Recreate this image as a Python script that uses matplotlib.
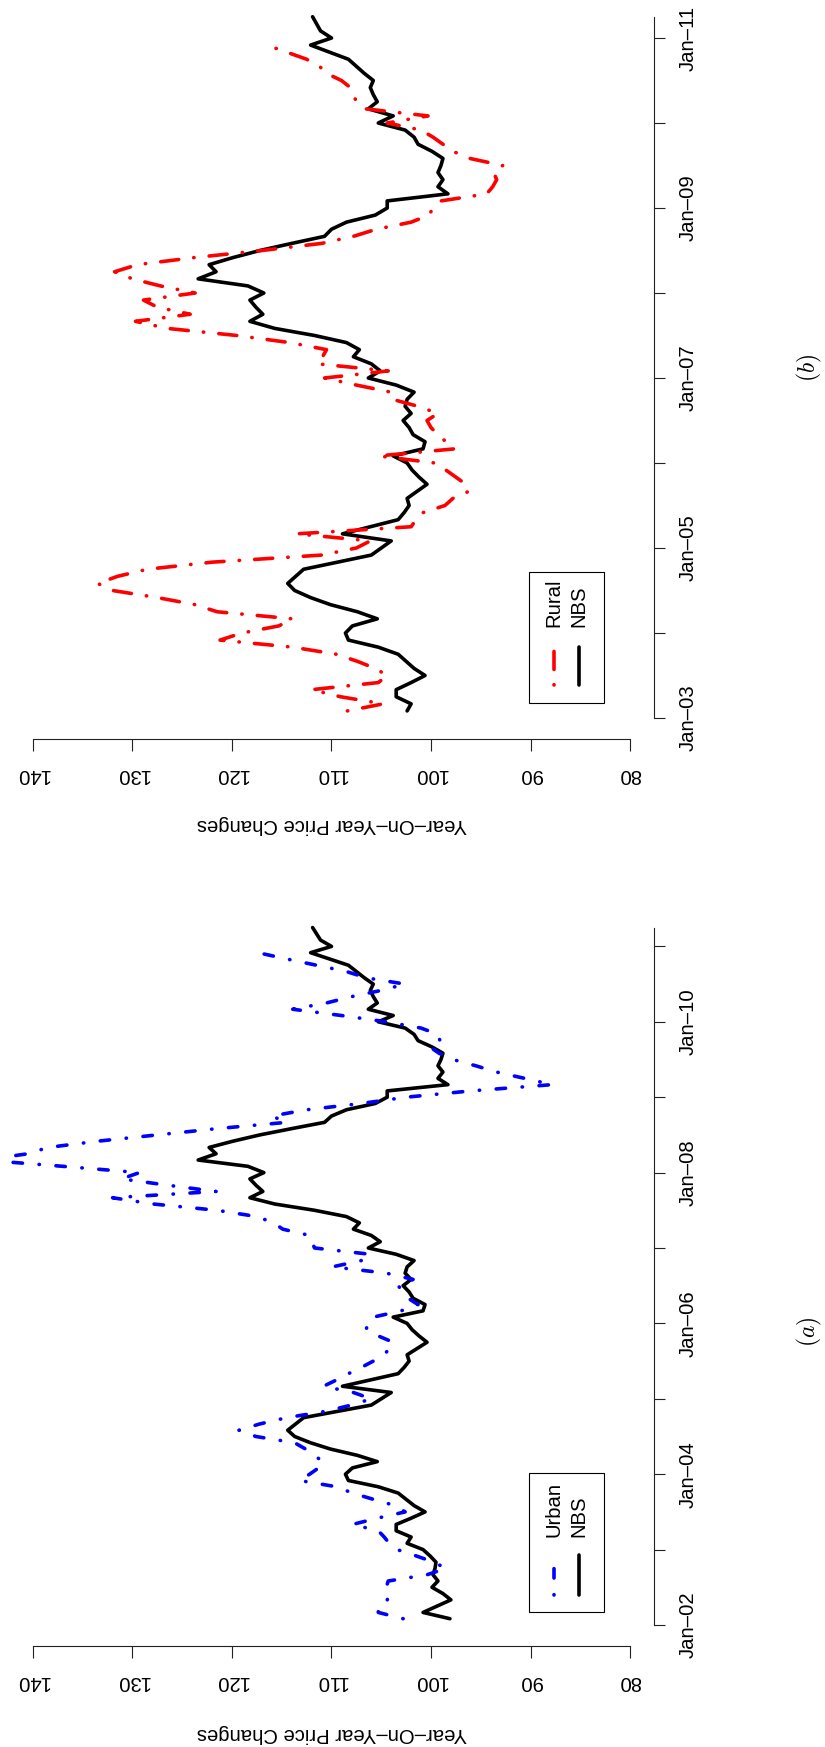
import matplotlib
matplotlib.use("Agg")
import matplotlib.pyplot as plt
from matplotlib.patches import Rectangle
from matplotlib.lines import Line2D
import numpy as np

plt.rcParams['font.family'] = ['Liberation Sans', 'DejaVu Sans']
plt.rcParams['mathtext.fontset'] = 'cm'

# ---------------- data (monthly, year-on-year price index) ----------------
nbs_start = (2002, 2)      # first month: Feb 2002
nbs_values = [
    98.1, 100.8, 99.4, 98.0, 98.8, 99.9, 99.3, 99.8, 99.6, 99.5, 100.1,
    100.8, 102.4, 102.0, 103.5, 103.5, 102.0, 100.6, 101.7, 102.5, 103.3, 105.3, 108.3,
    108.6, 107.9, 105.4, 107.4, 110.1, 112.1, 113.7, 114.4, 113.6, 112.8, 109.4, 106.0,
    105.0, 104.0, 108.9, 106.1, 103.3, 102.7, 102.2, 102.4, 101.4, 100.4, 101.2, 101.9,
    102.4, 103.8, 100.8, 100.6, 101.8, 102.2, 102.8, 102.0, 102.6, 102.4, 101.7, 103.5,
    106.3, 105.1, 106.0, 107.8, 107.2, 108.5, 111.7, 115.7, 118.2, 116.9, 117.6, 118.2,
    116.8, 118.4, 123.4, 121.6, 122.3, 119.9, 117.2, 114.0, 110.7, 110.0, 108.5, 105.6,
    104.4, 104.4, 98.3, 99.3, 98.8, 99.3, 99.0, 98.8, 99.9, 101.3, 101.7, 102.6,
    105.3, 103.8, 106.3, 105.4, 105.8, 106.1, 105.8, 106.7, 107.5, 108.3, 110.2, 112.1,
    110.0, 111.1, 111.5, 111.9,
]
urban_start = (2002, 2)
urban_values = [
    102.8, 105.3, 105.3, 104.4, 104.2, 104.5, 104.3, 100.4, 98.5, 99.7, 101.5,
    103.4, 104.2, 104.7, 105.3, 107.9, 105.4, 102.6, 103.6, 105.8, 107.9, 109.5, 113.2,
    112.2, 111.3, 110.8, 111.8, 112.6, 113.7, 117.6, 119.3, 117.2, 114.5, 110.6, 108.0,
    106.0, 107.8, 110.8, 109.5, 108.3, 107.0, 105.8, 104.7, 104.2, 103.8, 105.3, 106.5,
    106.4, 105.8, 103.0, 101.3, 102.3, 102.8, 103.3, 101.8, 104.5, 109.9, 107.0, 106.1,
    111.7, 112.0, 112.2, 114.9, 115.8, 117.5, 121.5, 127.9, 132.0, 121.6, 126.5, 131.1,
    129.3, 137.0, 145.0, 140.5, 138.5, 133.5, 127.5, 121.5, 114.5, 116.0, 112.5, 107.0,
    102.5, 96.0, 87.8, 90.6, 93.4, 95.5, 97.8, 99.2, 100.1, 99.1, 99.3, 101.0,
    104.5, 109.0, 113.9, 110.5, 108.0, 105.0, 102.6, 106.5, 108.5, 111.5, 114.5, 117.4,
]
rural_start = (2003, 2)
rural_values = [
    108.4, 104.8, 109.1, 112.0, 105.3, 104.4, 105.6, 107.4, 109.5, 113.9, 121.2,
    119.0, 115.3, 113.9, 121.5, 123.7, 127.5, 132.0, 133.5, 131.5, 128.5, 122.0, 111.0,
    107.5, 106.1, 113.5, 102.0, 101.5, 100.8, 98.6, 97.8, 96.2, 96.5, 97.5, 98.5,
    99.6, 105.3, 97.6, 98.5, 99.3, 100.0, 100.4, 99.3, 101.3, 103.9, 104.0, 107.5,
    110.7, 104.3, 111.4, 110.9, 110.5, 114.2, 119.5, 126.5, 129.7, 124.2, 127.5, 128.9,
    123.7, 127.2, 130.0, 131.8, 129.5, 123.8, 117.0, 111.0, 107.8, 105.5, 102.0, 100.2,
    99.8, 99.0, 94.4, 93.8, 93.4, 93.7, 92.8, 96.1, 97.8, 98.8, 99.8, 101.0,
    104.4, 100.3, 106.6, 107.5, 107.8, 108.1, 109.0, 110.5, 111.2, 112.5, 114.5, 116.5,
]
price_ticks = [80, 90, 100, 110, 120, 130, 140]
years_a = list(range(2002, 2012))
years_b = list(range(2003, 2012))
label_years_a = [2002, 2004, 2006, 2008, 2010]
label_years_b = [2003, 2005, 2007, 2009, 2011]
axis_title = "Year\u2013On\u2013Year Price Changes"


def month_dates(start, n):
    y, m = start
    return y + (m - 1) / 12.0 + np.arange(n) / 12.0


nbs_dates = month_dates(nbs_start, len(nbs_values))
urban_dates = month_dates(urban_start, len(urban_values))
rural_dates = month_dates(rural_start, len(rural_values))
nbs_vals = np.array(nbs_values)
nbs_b_mask = nbs_dates >= rural_dates[0] - 1e-9

# ---------------- layout ----------------
W, H = 825, 1747
fig = plt.figure(figsize=(W / 100, H / 100), dpi=100)

FS = 14.6
LW = 2.6
blue_dash = (0.1, 4.6, 2.6, 4.6)
red_dash = (0.1, 4.2, 5.0, 4.2)
AXC = '#222222'

x_left_px, x_right_px = 9.1, 653.9


def make_axes(d0, d1, jan_first, jan_px, px_per_year):
    rng = d1 - d0
    lo, hi = d0 - 0.04 * rng, d1 + 0.04 * rng
    bottom_px = jan_px + (jan_first - lo) * px_per_year
    height_px = (hi - lo) * px_per_year
    ax = fig.add_axes([x_left_px / W, 1 - bottom_px / H,
                       (x_right_px - x_left_px) / W, height_px / H])
    ax.set_xlim(142.4, 77.6)
    ax.set_ylim(lo, hi)
    return ax, bottom_px


def style_axes(ax, years, label_years, d_end):
    for s in ('top', 'left'):
        ax.spines[s].set_visible(False)
    ax.spines['bottom'].set_bounds(price_ticks[0], price_ticks[-1])
    ax.spines['right'].set_bounds(years[0], d_end)
    for s in ('bottom', 'right'):
        ax.spines[s].set_linewidth(0.8)
        ax.spines[s].set_color(AXC)
    ax.yaxis.tick_right()
    ax.set_xticks(price_ticks)
    ax.set_xticklabels([str(t) for t in price_ticks], rotation=180, fontsize=FS)
    ax.set_yticks(years)
    ax.set_yticklabels([("Jan\u2013%02d" % (y % 100)) if y in label_years else ""
                        for y in years], rotation=90, fontsize=FS)
    for t in ax.get_yticklabels():
        t.set_va('center')
    ax.tick_params(axis='x', direction='out', length=8.8, width=0.8, pad=10, color=AXC)
    ax.tick_params(axis='y', direction='out', length=8.0, width=0.8, pad=10, color=AXC)
    ax.patch.set_alpha(0)


def draw_legend(box, entries):
    x0, y0, x1, y1 = box
    fig.add_artist(Rectangle((x0 / W, 1 - y1 / H), (x1 - x0) / W, (y1 - y0) / H,
                             transform=fig.transFigure, fill=False,
                             edgecolor='black', linewidth=0.8))
    for (x, yb, yt, ytext, label, color, dash) in entries:
        kw = dict(color=color, linewidth=LW, solid_capstyle='round',
                  dash_capstyle='round', transform=fig.transFigure)
        ln = Line2D([x / W, x / W], [1 - yb / H, 1 - yt / H], **kw)
        if dash is not None:
            ln.set_dashes(dash)
        fig.add_artist(ln)
        fig.text(x / W, 1 - ytext / H, label, rotation=90, ha='center', va='bottom',
                 fontsize=FS)


# ---------------- panel (b): Rural vs NBS ----------------
axb, b_bottom = make_axes(rural_dates[0], nbs_dates[-1], 2003.0, 718.0, 85.0)
axb.plot(nbs_vals[nbs_b_mask], nbs_dates[nbs_b_mask], color='black', lw=LW,
         solid_joinstyle='round', solid_capstyle='round')
axb.plot(rural_values, rural_dates, color='#ff0000', lw=LW, dashes=red_dash,
         dash_capstyle='round', dash_joinstyle='round')
style_axes(axb, years_b, label_years_b, nbs_dates[-1])

# ---------------- panel (a): Urban vs NBS ----------------
axa, a_bottom = make_axes(nbs_dates[0], nbs_dates[-1], 2002.0, 1625.0, 75.4)
axa.plot(nbs_vals, nbs_dates, color='black', lw=LW,
         solid_joinstyle='round', solid_capstyle='round')
axa.plot(urban_values, urban_dates, color='#0000ff', lw=LW, dashes=blue_dash,
         dash_capstyle='round', dash_joinstyle='round')
style_axes(axa, years_a, label_years_a, nbs_dates[-1])

# axis titles (rotated like the reference)
fig.text(331.5 / W, 1 - 825 / H, axis_title, rotation=180, ha='center', va='center',
         fontsize=FS)
fig.text(331.5 / W, 1 - 1733 / H, axis_title, rotation=180, ha='center', va='center',
         fontsize=FS)

# panel captions
fig.text(809 / W, 1 - 368 / H, r'$(b)$', rotation=90, ha='center', va='center',
         fontsize=17)
fig.text(809 / W, 1 - 1332 / H, r'$(a)$', rotation=90, ha='center', va='center',
         fontsize=17)

# legends
draw_legend((529, 572, 604, 703),
            [(554, 685, 647, 627, 'Rural', '#ff0000', red_dash),
             (579, 685, 647, 627, 'NBS', 'black', None)])
draw_legend((529, 1473, 604, 1612),
            [(554, 1595, 1555, 1537, 'Urban', '#0000ff', blue_dash),
             (579, 1595, 1555, 1537, 'NBS', 'black', None)])

fig.savefig('out.png', dpi=100)
